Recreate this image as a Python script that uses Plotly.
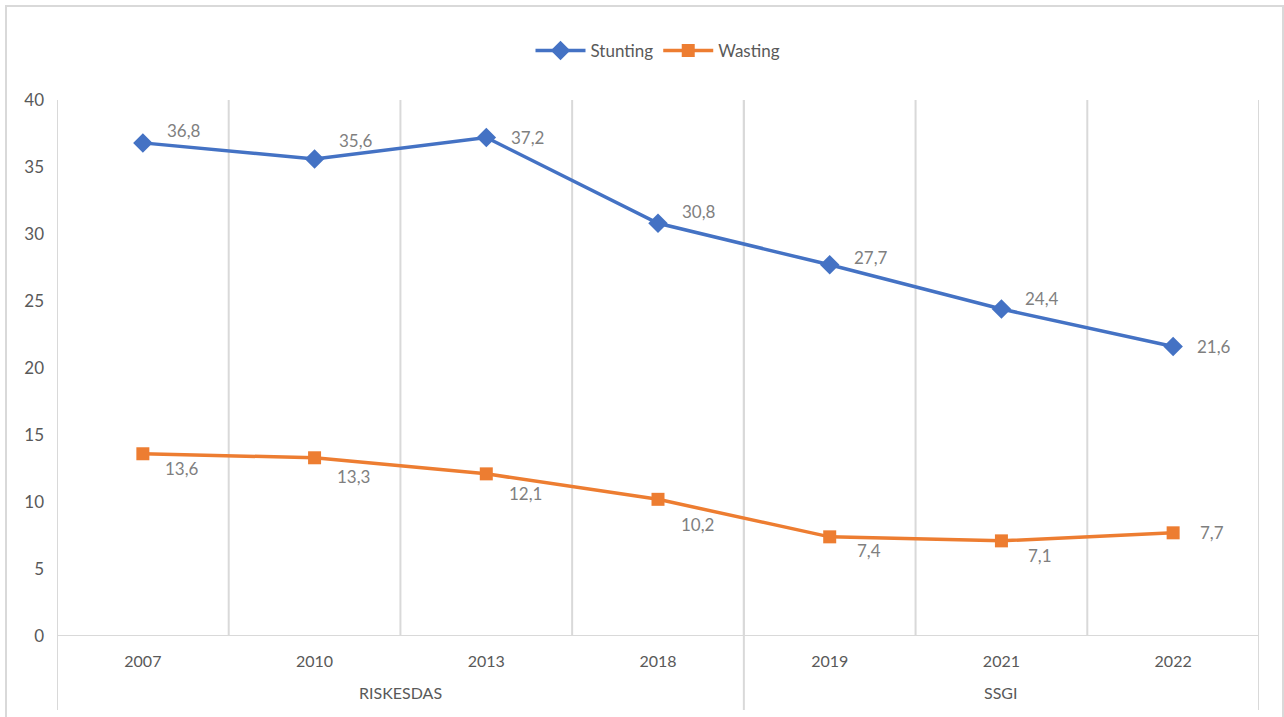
import plotly.graph_objects as go

years = ["2007", "2010", "2013", "2018", "2019", "2021", "2022"]
groups = ["RISKESDAS", "SSGI"]
group_sizes = [4, 3]
stunting = [36.8, 35.6, 37.2, 30.8, 27.7, 24.4, 21.6]
wasting = [13.6, 13.3, 12.1, 10.2, 7.4, 7.1, 7.7]

# label placement offsets (pixels) — styling only
stunting_dy = [12, 18, 0, 12, 7, 11, 0]
wasting_dy = [-15, -19, -20, -25, -14, -15, 0]

BLUE = "#4472C4"
ORANGE = "#ED7D31"
GRID = "#D9D9D9"
TXT = "#595959"
LBL = "#7F7F7F"
FONT = "Lato, 'Open Sans', sans-serif"

W, H = 1284, 717
L, R, T, B = 57, 1259, 100, 636

def px_x(p):
    return (p - L) / (R - L)

def px_y(p):
    return (B - p) / (B - T)

xs = list(range(len(years)))

fig = go.Figure()
fig.add_trace(go.Scatter(
    x=xs, y=stunting, name="Stunting", mode="lines+markers",
    line=dict(color=BLUE, width=3.5),
    marker=dict(symbol="diamond", size=15, color=BLUE),
))
fig.add_trace(go.Scatter(
    x=xs, y=wasting, name="Wasting", mode="lines+markers",
    line=dict(color=ORANGE, width=3.5),
    marker=dict(symbol="square", size=13, color=ORANGE),
))

annotations = []
for i, v in enumerate(stunting):
    annotations.append(dict(x=xs[i], y=v, text=f"{v:.1f}".replace(".", ","),
                            showarrow=False, xshift=41, yshift=stunting_dy[i],
                            font=dict(family=FONT, size=17, color=LBL)))
for i, v in enumerate(wasting):
    annotations.append(dict(x=xs[i], y=v, text=f"{v:.1f}".replace(".", ","),
                            showarrow=False, xshift=39, yshift=wasting_dy[i],
                            font=dict(family=FONT, size=17, color=LBL)))

# group labels
start = 0
for g, n in zip(groups, group_sizes):
    center = start + (n - 1) / 2
    annotations.append(dict(x=center, xref="x", y=px_y(692), yref="paper",
                            yanchor="middle", xanchor="center",
                            text=g, showarrow=False,
                            font=dict(family=FONT, size=16, color=TXT)))
    start += n

shapes = []
# vertical gridlines between categories
for i in range(len(years) - 1):
    shapes.append(dict(type="line", xref="x", yref="y", x0=i + 0.5, x1=i + 0.5,
                       y0=0, y1=40, line=dict(color=GRID, width=2), layer="below"))
# group separators extending below axis
bounds = [-0.5]
acc = -0.5
for n in group_sizes:
    acc += n
    bounds.append(acc)
for b in bounds:
    shapes.append(dict(type="line", xref="x", yref="paper", x0=b, x1=b,
                       y0=px_y(710), y1=1, line=dict(color=GRID, width=2), layer="below"))
# x-axis line
shapes.append(dict(type="line", xref="paper", yref="y", x0=0, x1=1, y0=0, y1=0,
                   line=dict(color=GRID, width=2), layer="below"))
# outer chart border
shapes.append(dict(type="rect", xref="paper", yref="paper",
                   x0=px_x(6), x1=px_x(1283), y0=px_y(740), y1=px_y(6),
                   line=dict(color=GRID, width=2), layer="below"))

fig.update_layout(
    width=W, height=H,
    margin=dict(l=L, r=W - R, t=T, b=H - B),
    paper_bgcolor="white", plot_bgcolor="white",
    font=dict(family=FONT, color=TXT, size=16),
    showlegend=True,
    legend=dict(orientation="h", x=0.5, xanchor="center", y=px_y(51), yanchor="middle",
                font=dict(family=FONT, size=17, color=TXT), itemwidth=50,
                bgcolor="rgba(0,0,0,0)"),
    xaxis=dict(range=[-0.5, len(years) - 0.5], tickmode="array", tickvals=xs,
               ticktext=years, showgrid=False, zeroline=False, showline=False,
               ticks="", ticklabelstandoff=14,
               tickfont=dict(family=FONT, size=16, color=TXT), fixedrange=True),
    yaxis=dict(range=[0, 40], dtick=5, showgrid=False, zeroline=False, showline=False,
               ticks="", ticklabelstandoff=12,
               tickfont=dict(family=FONT, size=17, color=TXT), fixedrange=True),
    annotations=annotations,
    shapes=shapes,
)

fig.write_html("out.html", config={"displayModeBar": False},
               post_script="document.body.style.margin='0';document.body.style.overflow='hidden';")
